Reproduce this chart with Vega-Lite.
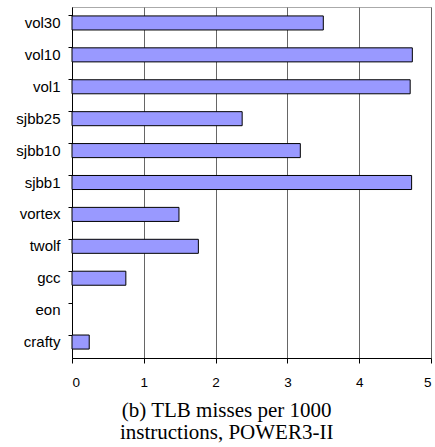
{
  "$schema": "https://vega.github.io/schema/vega-lite/v6.json",
  "width": 359,
  "height": 351,
  "padding": {"left": 15, "top": 7, "right": 3, "bottom": 0},
  "data": {
    "values": [
      {"bench": "vol30", "misses": 3.5},
      {"bench": "vol10", "misses": 4.74},
      {"bench": "vol1", "misses": 4.71},
      {"bench": "sjbb25", "misses": 2.37},
      {"bench": "sjbb10", "misses": 3.18},
      {"bench": "sjbb1", "misses": 4.73},
      {"bench": "vortex", "misses": 1.49},
      {"bench": "twolf", "misses": 1.76},
      {"bench": "gcc", "misses": 0.75},
      {"bench": "eon", "misses": 0},
      {"bench": "crafty", "misses": 0.24}
    ]
  },
  "title": {
    "text": ["(b) TLB misses per 1000", "instructions, POWER3-II"],
    "orient": "bottom",
    "anchor": "middle",
    "frame": "bounds",
    "font": "Liberation Serif",
    "fontSize": 21,
    "fontWeight": "normal",
    "lineHeight": 22,
    "color": "black",
    "offset": 11,
    "dx": 3
  },
  "mark": {"type": "bar", "fill": "#9999ff", "stroke": "black", "strokeWidth": 1},
  "encoding": {
    "y": {
      "field": "bench",
      "type": "nominal",
      "sort": null,
      "scale": {"paddingInner": 0.56, "paddingOuter": 0.28},
      "axis": {
        "title": null,
        "bandPosition": 0,
        "domainColor": "black",
        "tickColor": "black",
        "tickSize": 4,
        "labelFont": "Liberation Sans",
        "labelFontSize": 15,
        "labelColor": "black",
        "labelPadding": 8,
        "grid": false
      }
    },
    "x": {
      "field": "misses",
      "type": "quantitative",
      "scale": {"domain": [0, 5], "nice": false},
      "axis": {
        "title": null,
        "values": [0, 1, 2, 3, 4, 5],
        "domainColor": "black",
        "tickColor": "black",
        "tickSize": 5,
        "labelFont": "Liberation Sans",
        "labelFontSize": 13.5,
        "labelColor": "black",
        "labelPadding": 12,
        "grid": true,
        "gridColor": "#666666",
        "gridOpacity": 1
      }
    },
    "strokeOpacity": {
      "condition": {"test": "datum.misses > 0", "value": 1},
      "value": 0
    }
  },
  "config": {
    "view": {"stroke": "#aaaaaa"}
  }
}
